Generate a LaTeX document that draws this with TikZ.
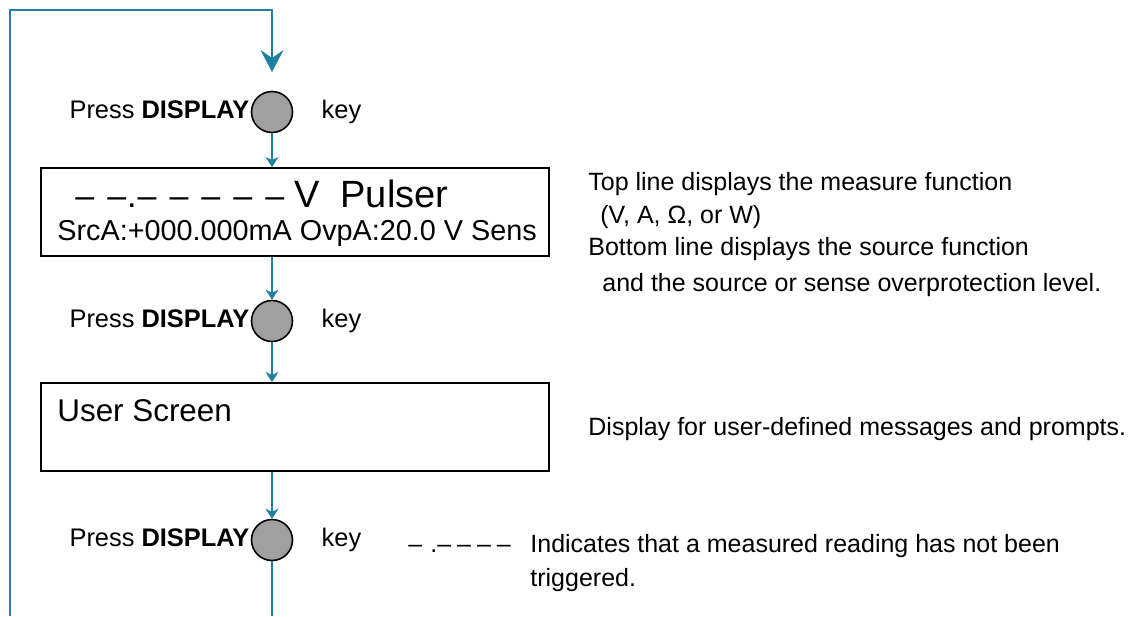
\documentclass[tikz,border=0pt]{standalone}
\usepackage{fontspec}
\setmainfont{Liberation Sans}
\usetikzlibrary{arrows.meta,positioning}
\definecolor{loopblue}{HTML}{1F80A2}
\definecolor{keygrey}{HTML}{A0A0A0}
\newcommand{\dsh}[1]{–\hspace{#1}}

\begin{document}
\begin{tikzpicture}[
  x=0.5pt, y=-0.5pt,
  node distance=6pt and 15pt,
  keybtn/.style={circle, draw=black, fill=keygrey, line width=0.8pt, minimum size=20.5pt, inner sep=0pt},
  screen/.style={draw=black, line width=0.9pt, minimum width=254pt, minimum height=44pt, inner sep=0pt},
  lbl/.style={font=\fontsize{12.7}{15}\selectfont, inner sep=0pt, text height=1.6ex, text depth=.3ex},
  note/.style={font=\fontsize{12.5}{15}\selectfont, inner sep=0pt, anchor=base west},
  arr/.style={-{Stealth[length=5pt,width=6.5pt,inset=1.5pt]}, loopblue, line width=0.6pt},
  looparr/.style={-{Stealth[length=11pt,width=11.5pt,inset=4pt]}, loopblue, line width=1.1pt}
]
\useasboundingbox (0,0) rectangle (1143,616);

% keys and screens
\node[keybtn] (key1) at (272,112) {};
\node[lbl, left=0.5pt of key1] (press1) {Press \textbf{DISPLAY}};
\node[lbl, right=14pt of key1] (keyw1) {key};

\node[screen, anchor=north west] (scr1) at (40,167) {};
\node[anchor=base west, inner sep=0pt] (meas) at (75,207) {{\fontsize{17}{20}\selectfont \dsh{6.5pt}–\hspace{0.5pt}.\hspace{0.5pt}\dsh{6.5pt}\dsh{6.5pt}\dsh{6.5pt}\dsh{6.5pt}–}\hspace{5pt}{\fontsize{19}{22}\selectfont V\ \ Pulser}};
\node[anchor=base west, inner sep=0pt, font=\fontsize{14.4}{17}\selectfont] (src) at (57,240) {SrcA:+000.000mA OvpA:20.0 V Sens};

\node[keybtn] (key2) at (272,321) {};
\node[lbl, left=0.5pt of key2] (press2) {Press \textbf{DISPLAY}};
\node[lbl, right=14pt of key2] (keyw2) {key};

\node[screen, anchor=north west] (scr2) at (40,382) {};
\node[anchor=base west, inner sep=0pt, font=\fontsize{15.7}{18}\selectfont] (user) at (57,421) {User Screen};

\node[keybtn] (key3) at (272,540) {};
\node[lbl, left=0.5pt of key3] (press3) {Press \textbf{DISPLAY}};
\node[lbl, right=14pt of key3] (keyw3) {key};

% notes
\node[note] (top1) at (588,190) {Top line displays the measure function};
\node[note] (top2) at (600,223) {(V, A, Ω, or W)};
\node[note] (bot1) at (588,255) {Bottom line displays the source function};
\node[note] (bot2) at (602,291) {and the source or sense overprotection level.};
\node[note] (usr) at (588,435) {Display for user-defined messages and prompts.};
\node[note] (dash) at (408,552) {\dsh{4pt}.\dsh{3pt}\dsh{3pt}\dsh{3pt}–};
\node[note] (ind1) at (530,552) {Indicates that a measured reading has not been};
\node[note] (ind2) at (530,586) {triggered.};

% connectors
\coordinate (bot) at (272,616);
\coordinate (botl) at (10,616);
\coordinate (topr) at (272,10);
\coordinate (tip) at (272,72);
\draw[arr] (key1) -- (scr1.north -| key1);
\draw[arr] (scr1.south -| key1) -- (key2);
\draw[arr] (key2) -- (scr2.north -| key2);
\draw[arr] (scr2.south -| key2) -- (key3);
\draw[loopblue, line width=1.1pt] (key3) -- (bot);
\draw[looparr] (botl) |- (topr) -- (tip);
\end{tikzpicture}
\end{document}
